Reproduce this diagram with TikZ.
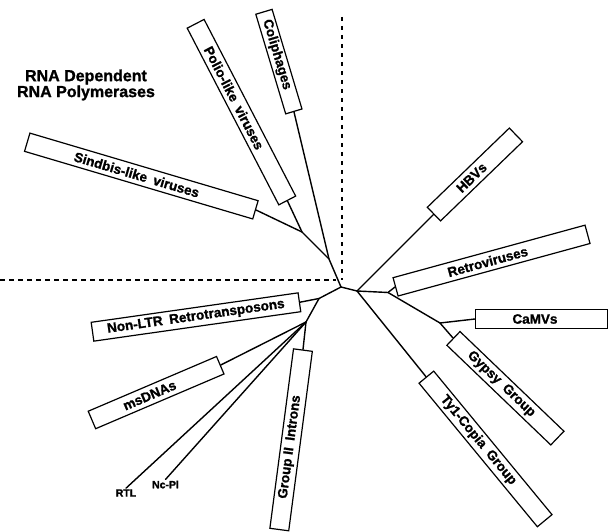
\documentclass[tikz,border=0pt]{standalone}
\usepackage{fontspec}
\setmainfont{Liberation Sans}[BoldFeatures={FakeBold=1.2}]
\usetikzlibrary{calc}
\newcommand{\gapsp}{\hspace{0.5em}}
\begin{document}
\begin{tikzpicture}[x=1pt,y=-1pt,
  branch/.style={line width=1.4pt, line cap=round, line join=round},
  leafbox/.style={draw, line width=1.2pt, minimum height=19pt, inner sep=0pt},
  leaflabel/.style={font=\fontsize{13.5}{14}\selectfont\bfseries, inner sep=0pt},
  smalllabel/.style={font=\fontsize{10.5}{11}\selectfont\bfseries, inner sep=1pt},
  hdivider/.style={line width=2pt, dash pattern=on 5pt off 4pt},
  vdivider/.style={line width=2pt, dash pattern=on 4pt off 5pt}]
\useasboundingbox (0,0) rectangle (608,532);

% dashed dividers
\coordinate (hl) at (0,280);
\coordinate (hr) at (336,280);
\coordinate (vt) at (342,17);
\coordinate (vb) at (342,280);
\draw[hdivider] (hl) -- (hr);
\draw[vdivider] (vt) -- (vb);

% title
\node[font=\fontsize{16}{14.5}\selectfont\bfseries, align=center] (title) at (86,85) {RNA Dependent\\RNA Polymerases};

% boxes
\node[leafbox, minimum width=238pt, rotate=-16.5, anchor=east] (sind) at (256,210) {};
\node[leaflabel, rotate=-16.5] (sindl) at ($(sind.west)!0.48!(sind.east)$) {Sindbis-like\gapsp viruses};

\node[leafbox, minimum width=199pt, rotate=-62.6, anchor=east] (polio) at (287.5,201) {};
\node[leaflabel, rotate=-62.6] (poliol) at ($(polio.west)!0.42!(polio.east)$) {Polio-like\gapsp viruses};

\node[leafbox, minimum width=104pt, minimum height=17pt, rotate=-73.3, anchor=east] (colip) at (294,112) {};
\node[leaflabel, rotate=-73.3] (colipl) at ($(colip.west)!0.43!(colip.east)$) {Coliphages};

\node[leafbox, minimum width=114pt, rotate=44, anchor=west] (hbv) at (433.5,214.5) {};
\node[leaflabel, rotate=44] (hbvl) at ($(hbv.west)!0.46!(hbv.east)$) {HBVs};

\node[leafbox, minimum width=199pt, rotate=15.3, anchor=west] (retro) at (395,287) {};
\node[leaflabel, rotate=15.3] (retrol) at ($(retro.west)!0.48!(retro.east)$) {Retroviruses};

\node[leafbox, minimum width=132pt, anchor=west] (camv) at (475,319) {};
\node[leaflabel] (camvl) at ($(camv.west)!0.45!(camv.east)$) {CaMVs};

\node[leafbox, minimum width=144pt, rotate=-43.8, anchor=west] (gypsy) at (453,338) {};
\node[leaflabel, rotate=-43.8] (gypsyl) at ($(gypsy.west)!0.46!(gypsy.east)$) {Gypsy\gapsp Group};

\node[leafbox, minimum width=186pt, rotate=-50.5, anchor=west] (ty1) at (426,376.7) {};
\node[leaflabel, rotate=-50.5] (ty1l) at ($(ty1.west)!0.44!(ty1.east)$) {Ty1-Copia\gapsp Group};

\node[leafbox, minimum width=181pt, rotate=82.5, anchor=east] (grp2) at (303,349.5) {};
\node[leaflabel, rotate=82.5] (grp2l) at ($(grp2.west)!0.46!(grp2.east)$) {Group II\gapsp Introns};

\node[leafbox, minimum width=139.5pt, rotate=23.1, anchor=east] (msdna) at (220.8,365) {};
\node[leaflabel, rotate=23.1] (msdnal) at ($(msdna.west)!0.45!(msdna.east)$) {msDNAs};

\node[leafbox, minimum width=209pt, rotate=8.1, anchor=east] (nonltr) at (300,302.2) {};
\node[leaflabel, rotate=8.1] (nonltrl) at ($(nonltr.west)!0.5!(nonltr.east)$) {Non-LTR\gapsp Retrotransposons};

\node[smalllabel] (rtl) at (126,493) {RTL};
\node[smalllabel] (ncpl) at (165.5,484.5) {Nc-Pl};

% junctions
\coordinate (R) at (341,287);
\coordinate (G) at (329,259);
\coordinate (H) at (302,232);
\coordinate (A) at (357,291);
\coordinate (B) at (388,292.5);
\coordinate (C) at (440,323);
\coordinate (D) at (319,298.5);
\coordinate (E) at (306,322);

% branches
\draw[branch] (R) -- (G) -- (colip.east);
\draw[branch] (G) -- (H) -- (polio.east);
\draw[branch] (H) -- (sind.east);
\draw[branch] (R) -- (A) -- (hbv.west);
\draw[branch] (A) -- (ty1.west);
\draw[branch] (A) -- (B) -- (retro.west);
\draw[branch] (B) -- (C) -- (gypsy.west);
\draw[branch] (C) -- (camv.west);
\draw[branch] (R) -- (D) -- (nonltr.east);
\draw[branch] (D) -- (E) -- (grp2.east);
\draw[branch] (E) -- (msdna.east);
\draw[branch] (E) -- (rtl.north);
\draw[branch] (E) -- (ncpl.north);
\end{tikzpicture}
\end{document}
